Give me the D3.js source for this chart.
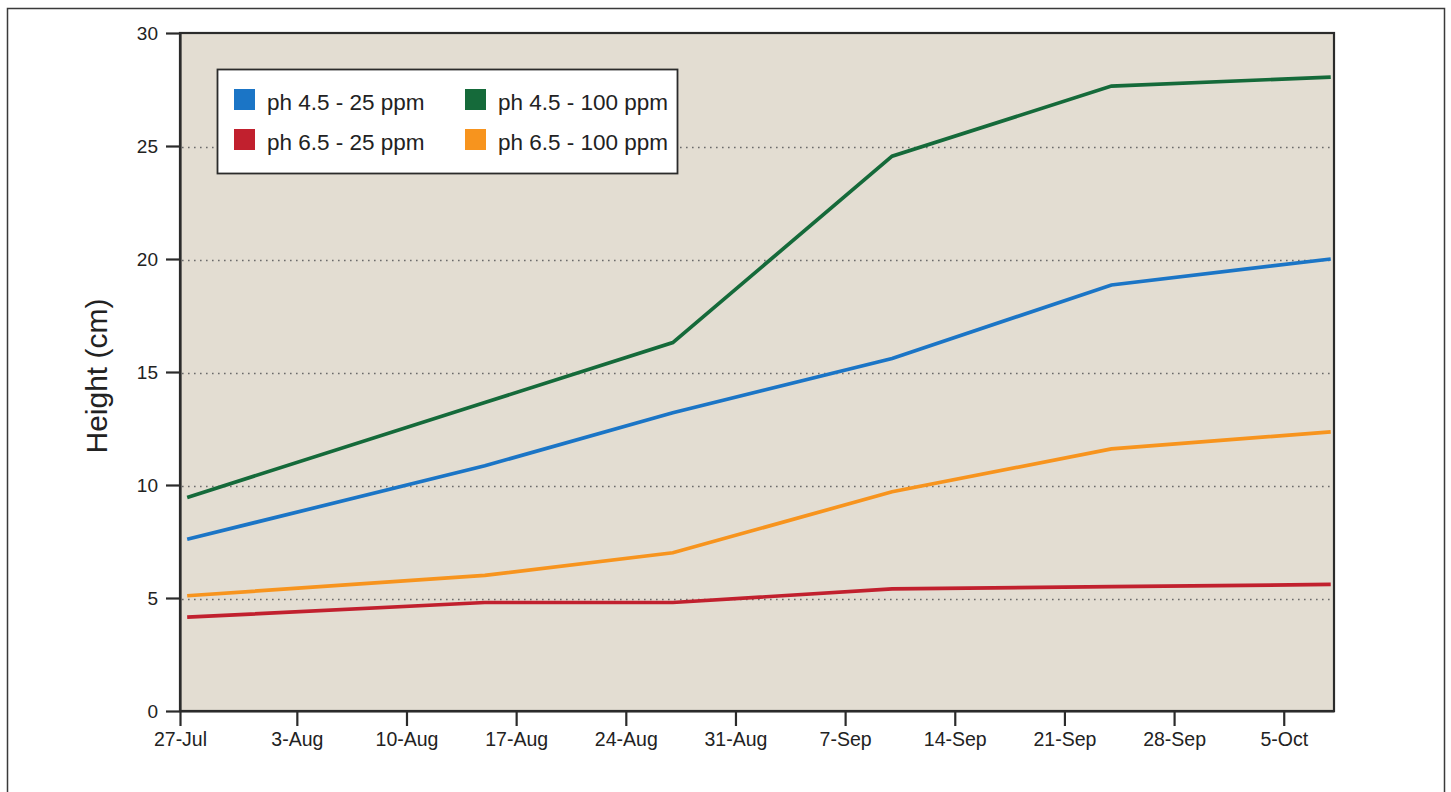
<!DOCTYPE html>
<html><head><meta charset="utf-8">
<script src="https://cdn.jsdelivr.net/npm/d3@7"></script>
<style>
html,body{margin:0;padding:0;background:#fff;}
svg{display:block;font-family:"Liberation Sans",Arial,Helvetica,sans-serif;}
</style></head>
<body>
<svg id="chart" width="1451" height="792"></svg>
<script>
// ---- data ----
const dates = ["2012-07-27","2012-08-15","2012-08-27","2012-09-10","2012-09-24","2012-10-08"];
const ph45_25  = [7.6, 10.85, 13.2, 15.6, 18.85, 20.0];
const ph45_100 = [9.45, 13.65, 16.3, 24.55, 27.65, 28.05];
const ph65_25  = [4.15, 4.8, 4.8, 5.4, 5.5, 5.6];
const ph65_100 = [5.1, 6.0, 7.0, 9.7, 11.6, 12.35];
const seriesNames = ["ph 4.5 - 25 ppm","ph 6.5 - 25 ppm","ph 4.5 - 100 ppm","ph 6.5 - 100 ppm"];
const seriesColors = ["#1b75c6","#c1202e","#156a3a","#f7941e"];
const xTickLabels = ["27-Jul","3-Aug","10-Aug","17-Aug","24-Aug","31-Aug","7-Sep","14-Sep","21-Sep","28-Sep","5-Oct"];
const xTickDates = ["2012-08-03","2012-08-10","2012-08-17","2012-08-24","2012-08-31","2012-09-07","2012-09-14","2012-09-21","2012-09-28","2012-10-05"];
const yTicks = [0,5,10,15,20,25,30];
const yTitle = "Height (cm)";

const parse = d3.timeParse("%Y-%m-%d");
const dts = dates.map(parse);
const allSeries = [ph45_25, ph65_25, ph45_100, ph65_100];

const svg = d3.select("#chart");
const L = 180, R = 1334, T = 33, B = 711;

// outer frame
svg.append("rect").attr("x",7.5).attr("y",8.5).attr("width",1437).attr("height",800)
  .attr("fill","none").attr("stroke","#3a3a3a").attr("stroke-width",1.5);

const x0 = d3.timeHour.offset(parse("2012-07-27"), -11);
const x1 = d3.timeHour.offset(parse("2012-10-08"), 5);
const x = d3.scaleTime().domain([x0, x1]).range([L, R]);
const y = d3.scaleLinear().domain([0, 30]).range([B, T]);

// plot background
svg.append("rect").attr("x",L).attr("y",T).attr("width",R-L).attr("height",B-T)
  .attr("fill","#e3ddd2");

// gridlines
svg.append("g").selectAll("line").data(yTicks.filter(v => v>0 && v<30)).join("line")
  .attr("x1",L+2).attr("x2",R-2).attr("y1",d=>Math.round(y(d))+1.5).attr("y2",d=>Math.round(y(d))+1.5)
  .attr("stroke","#6b6b6b").attr("stroke-width",1.6).attr("stroke-dasharray","1.6,4.4");

// lines
const line = d3.line().x((d,i)=>x(dts[i])).y(d=>y(d));
allSeries.forEach((s,k)=>{
  svg.append("path").datum(s).attr("d",line).attr("fill","none")
    .attr("stroke",seriesColors[k]).attr("stroke-width",3.7).attr("stroke-linejoin","miter");
});

// plot border
svg.append("rect").attr("x",L).attr("y",T).attr("width",R-L).attr("height",B-T)
  .attr("fill","none").attr("stroke","#2b2b2b").attr("stroke-width",2.2);

// y axis
const yAxis = d3.axisLeft(y).tickValues(yTicks).tickSize(14).tickSizeOuter(0).tickPadding(8).tickFormat(d3.format("d"));
const gy = svg.append("g").attr("transform",`translate(${L},0)`).call(yAxis);
gy.select(".domain").attr("stroke","#2b2b2b").attr("stroke-width",2.2);
gy.selectAll(".tick line").attr("stroke","#2b2b2b").attr("stroke-width",2.2);
gy.selectAll(".tick text").attr("font-size",19).attr("fill","#222").attr("font-family","Liberation Sans, Arial, sans-serif");

// x axis
const tickVals = [x0].concat(xTickDates.map(parse));
const xAxis = d3.axisBottom(x).tickValues(tickVals).tickSize(15).tickSizeOuter(0).tickPadding(6)
  .tickFormat((d,i)=>xTickLabels[i]);
const gx = svg.append("g").attr("transform",`translate(0,${B})`).call(xAxis);
gx.select(".domain").attr("stroke","#2b2b2b").attr("stroke-width",2.2);
gx.selectAll(".tick line").attr("stroke","#2b2b2b").attr("stroke-width",2.2);
gx.selectAll(".tick text").attr("font-size",19.5).attr("fill","#222").attr("font-family","Liberation Sans, Arial, sans-serif");

// y title
svg.append("text").attr("transform","translate(107,376) rotate(-90)")
  .attr("text-anchor","middle").attr("font-size",30).attr("fill","#222").text(yTitle);

// legend
const lg = svg.append("g");
lg.append("rect").attr("x",217.5).attr("y",69.5).attr("width",460).attr("height",104)
  .attr("fill","#fff").attr("stroke","#2b2b2b").attr("stroke-width",1.8);
const legPos = [[234,89],[234,129],[465,89],[465,129]];
seriesNames.forEach((n,k)=>{
  const [lx,ly] = legPos[k];
  lg.append("rect").attr("x",lx).attr("y",ly).attr("width",21).attr("height",21).attr("fill",seriesColors[k]);
  lg.append("text").attr("x",lx+33).attr("y",ly+21).attr("font-size",22.5).attr("fill","#222").text(n);
});
</script>
</body></html>
